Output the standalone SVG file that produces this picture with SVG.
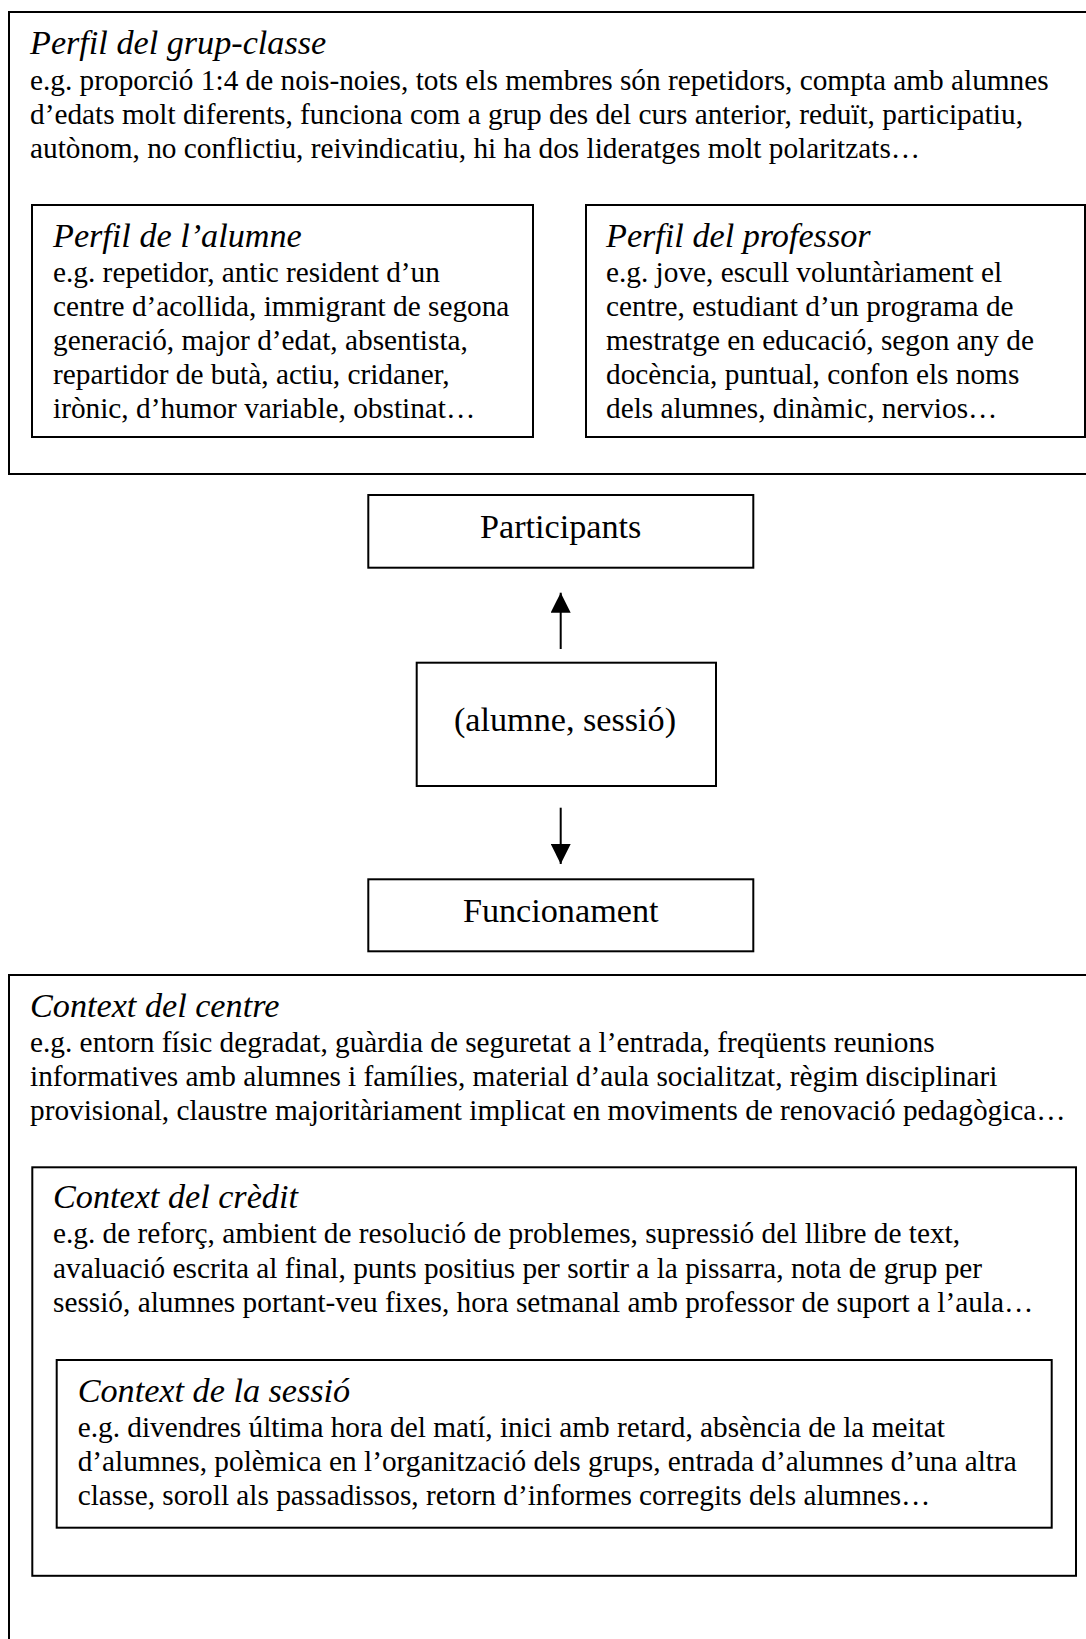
<svg xmlns="http://www.w3.org/2000/svg" width="1086" height="1639" viewBox="0 0 1086 1639">
<style>
  .box { fill: none; stroke: #000; stroke-width: 2; }
  .ttl { font-family: "Liberation Serif", "Times New Roman", serif; font-style: italic; font-size: 34.2px; fill: #000; }
  .txt { font-family: "Liberation Serif", "Times New Roman", serif; font-size: 29.3px; fill: #000; }
  .lbl { font-family: "Liberation Serif", "Times New Roman", serif; font-size: 34.2px; fill: #000; text-anchor: middle; }
  .conn { stroke: #000; stroke-width: 2; fill: none; }
</style>
<defs>
  <marker id="arrow" markerUnits="userSpaceOnUse" markerWidth="20" markerHeight="20" refX="20" refY="10" orient="auto">
    <path d="M0,0 L20,10 L0,20 z" fill="#000"/>
  </marker>
</defs>
<rect width="1086" height="1639" fill="#fff"/>

<g id="perfil-grup-classe">
  <rect class="box" x="9" y="12" width="1090" height="462"/>
  <text class="ttl" x="30" y="54">Perfil del grup-classe</text>
  <text class="txt" x="30" y="89.5">e.g. proporció 1:4 de nois-noies, tots els membres són repetidors, compta amb alumnes</text>
  <text class="txt" x="30" y="123.5">d’edats molt diferents, funciona com a grup des del curs anterior, reduït, participatiu,</text>
  <text class="txt" x="30" y="157.5">autònom, no conflictiu, reivindicatiu, hi ha dos lideratges molt polaritzats…</text>
</g>

<g id="perfil-alumne">
  <rect class="box" x="32" y="205" width="501" height="232"/>
  <text class="ttl" x="53" y="247">Perfil de l’alumne</text>
  <text class="txt" x="53" y="282">e.g. repetidor, antic resident d’un</text>
  <text class="txt" x="53" y="316">centre d’acollida, immigrant de segona</text>
  <text class="txt" x="53" y="350">generació, major d’edat, absentista,</text>
  <text class="txt" x="53" y="384">repartidor de butà, actiu, cridaner,</text>
  <text class="txt" x="53" y="418">irònic, d’humor variable, obstinat…</text>
</g>

<g id="perfil-professor">
  <rect class="box" x="586" y="205" width="499" height="232"/>
  <text class="ttl" x="606" y="247">Perfil del professor</text>
  <text class="txt" x="606" y="282">e.g. jove, escull voluntàriament el</text>
  <text class="txt" x="606" y="316">centre, estudiant d’un programa de</text>
  <text class="txt" x="606" y="350">mestratge en educació, segon any de</text>
  <text class="txt" x="606" y="384">docència, puntual, confon els noms</text>
  <text class="txt" x="606" y="418">dels alumnes, dinàmic, nervios…</text>
</g>

<g id="participants">
  <rect class="box" x="368.3" y="495" width="385" height="72.7"/>
  <text class="lbl" x="560.7" y="538">Participants</text>
</g>

<g id="alumne-sessio">
  <rect class="box" x="416.7" y="662.7" width="299.3" height="123.3"/>
  <text class="lbl" x="565" y="730.7">(alumne, sessió)</text>
</g>

<g id="funcionament">
  <rect class="box" x="368.3" y="879.3" width="385" height="72"/>
  <text class="lbl" x="560.7" y="922">Funcionament</text>
</g>

<g id="connectors">
  <line class="conn" x1="560.7" y1="649" x2="560.7" y2="592.7" marker-end="url(#arrow)"/>
  <line class="conn" x1="560.7" y1="807.7" x2="560.7" y2="864" marker-end="url(#arrow)"/>
</g>

<g id="context-centre">
  <rect class="box" x="9" y="975" width="1090" height="700"/>
  <text class="ttl" x="30" y="1016.7">Context del centre</text>
  <text class="txt" x="30" y="1051.7">e.g. entorn físic degradat, guàrdia de seguretat a l’entrada, freqüents reunions</text>
  <text class="txt" x="30" y="1085.7">informatives amb alumnes i famílies, material d’aula socialitzat, règim disciplinari</text>
  <text class="txt" x="30" y="1119.7">provisional, claustre majoritàriament implicat en moviments de renovació pedagògica…</text>
</g>

<g id="context-credit">
  <rect class="box" x="32.3" y="1167.3" width="1043.7" height="408.5"/>
  <text class="ttl" x="53" y="1208">Context del crèdit</text>
  <text class="txt" x="53" y="1243">e.g. de reforç, ambient de resolució de problemes, supressió del llibre de text,</text>
  <text class="txt" x="53" y="1277.5">avaluació escrita al final, punts positius per sortir a la pissarra, nota de grup per</text>
  <text class="txt" x="53" y="1312">sessió, alumnes portant-veu fixes, hora setmanal amb professor de suport a l’aula…</text>
</g>

<g id="context-sessio">
  <rect class="box" x="56.7" y="1360" width="995" height="167.7"/>
  <text class="ttl" x="77.7" y="1401.7">Context de la sessió</text>
  <text class="txt" x="77.7" y="1437">e.g. divendres última hora del matí, inici amb retard, absència de la meitat</text>
  <text class="txt" x="77.7" y="1471">d’alumnes, polèmica en l’organització dels grups, entrada d’alumnes d’una altra</text>
  <text class="txt" x="77.7" y="1505">classe, soroll als passadissos, retorn d’informes corregits dels alumnes…</text>
</g>
</svg>
